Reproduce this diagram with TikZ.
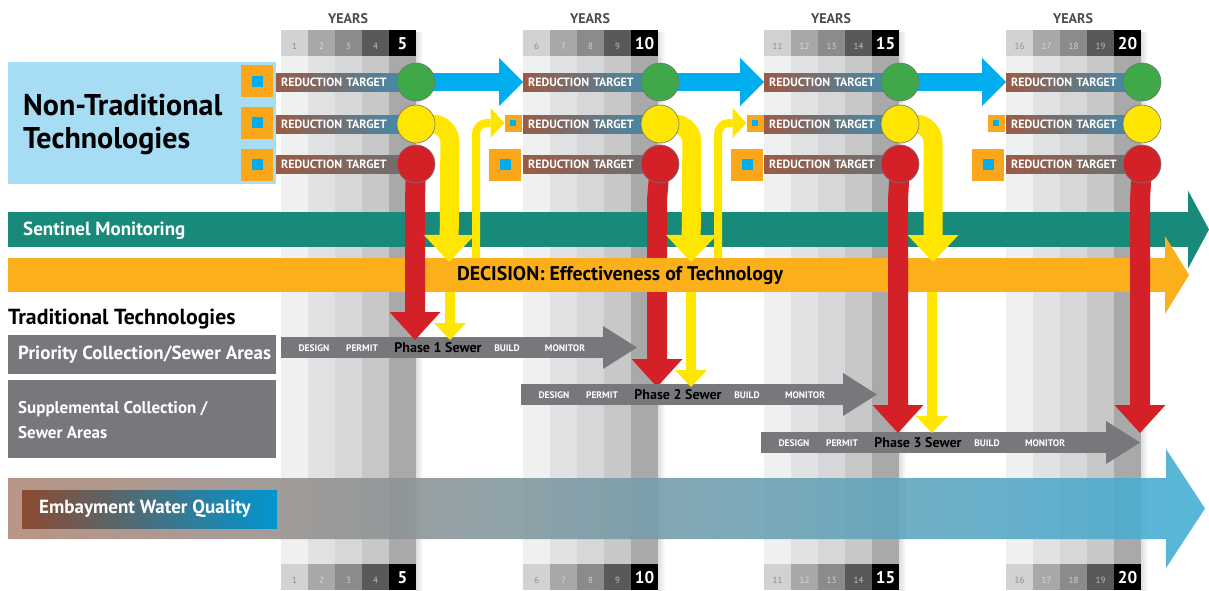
\documentclass[tikz,border=0pt]{standalone}
\usepackage{fontspec}
\setmainfont{PT Sans}
\usetikzlibrary{arrows.meta}
\definecolor{cNbox}{HTML}{A6DDF5}
\definecolor{cSqOr}{HTML}{F9A61A}
\definecolor{cSqBl}{HTML}{00AEEF}
\definecolor{cTeal}{HTML}{178A79}
\definecolor{cDec}{HTML}{FBB01B}
\definecolor{cGray}{HTML}{77787B}
\definecolor{cRed}{HTML}{D42127}
\definecolor{cYel}{HTML}{FFE600}
\definecolor{cGrn}{HTML}{3FA949}
\definecolor{cBlue}{HTML}{00AEEF}
\definecolor{cBrown}{HTML}{9B5B45}
\definecolor{cRtBlue}{HTML}{3B8FB5}
\definecolor{cRtGray}{HTML}{6A7276}
\definecolor{cEmbL}{HTML}{B18979}
\definecolor{cEmbM}{HTML}{9A9D9F}
\definecolor{cEmbR}{HTML}{45AFD5}
\definecolor{cEwL}{HTML}{8C4A30}
\definecolor{cEwM}{HTML}{6B7379}
\definecolor{cEwR}{HTML}{0096D0}
\definecolor{b0}{HTML}{EFF0F0}
\definecolor{b1}{HTML}{E1E2E3}
\definecolor{b2}{HTML}{D6D7D8}
\definecolor{b3}{HTML}{C8C8C9}
\definecolor{b4}{HTML}{A9A9AA}
\definecolor{h0}{HTML}{D1D2D3}
\definecolor{h1}{HTML}{A7A8AA}
\definecolor{h2}{HTML}{8A8B8D}
\definecolor{h3}{HTML}{58595B}
\definecolor{h4}{HTML}{000000}
\definecolor{n0}{HTML}{8C8C8C}
\definecolor{n1}{HTML}{DADADA}
\definecolor{n2}{HTML}{CFCFCF}
\definecolor{n3}{HTML}{BDBDBD}
\begin{document}
\begin{tikzpicture}[x=1pt,y=-1pt,line cap=butt,
  circ/.style={circle,minimum size=38pt,inner sep=0pt,draw=black!55,line width=0.6pt},
  rtbar/.style={anchor=west,minimum height=18pt,inner ysep=0pt,inner xsep=5pt,text=white,
     font=\bfseries\fontsize{12}{13}\selectfont,align=left},
  sqbig/.style={fill=cSqOr,minimum size=32pt,inner sep=0pt},
  sqsmall/.style={fill=cSqOr,minimum size=17pt,inner sep=0pt},
  inbig/.style={fill=cSqBl,minimum size=11pt,inner sep=0pt},
  insmall/.style={fill=cSqBl,minimum size=6pt,inner sep=0pt},
  num/.style={font=\fontsize{9}{10}\selectfont,inner sep=0pt},
  bignum/.style={font=\bfseries\fontsize{17}{18}\selectfont,text=white,inner sep=0pt},
  yrs/.style={font=\bfseries\fontsize{14}{15}\selectfont,text=black!70,inner sep=0pt},
  blk/.style={line width=18pt,cBlue,-{Triangle[length=24pt,width=48pt,line width=0pt]}},
  redar/.style={line width=20pt,cRed,-{Triangle[length=28pt,width=51pt,line width=0pt]}},
  yelthick/.style={line width=19pt,cYel,rounded corners=18pt,-{Triangle[length=27pt,width=51pt,line width=0pt]}},
  yelup/.style={line width=8pt,cYel,rounded corners=11pt,-{Triangle[length=14pt,width=30pt,line width=0pt]}},
  yeldown/.style={line width=10pt,cYel,-{Triangle[length=17pt,width=32pt,line width=0pt]}},
  phase/.style={line width=21pt,cGray,-{Triangle[length=34pt,width=43pt,line width=0pt]}},
  plab/.style={font=\bfseries\fontsize{9.5}{10}\selectfont,text=white,inner sep=0pt},
  pname/.style={font=\bfseries\fontsize{14}{15}\selectfont,text=black,inner sep=0pt},
  graybox/.style={fill=cGray,anchor=north west,inner sep=0pt,minimum width=268pt},
  lefttxt/.style={anchor=west,inner sep=0pt,align=left}]
\useasboundingbox (0,0) rectangle (1209,590);
% ---- year columns
\foreach \b/\bx/\n in {1/281/1,2/523/6,3/764/11,4/1006/16}{
  \shade[left color=black!13,right color=white] (\bx+135,32) rectangle (\bx+142,590);
  \foreach \c in {0,...,4}{
    \fill[b\c] (\bx+\c*27,56) rectangle ++(27,508);
    \fill[h\c] (\bx+\c*27,30) rectangle ++(27,26);
    \fill[h\c] (\bx+\c*27,564) rectangle ++(27,26);
  }
  \node[yrs] (yrs\b) at (\bx+67,19) {YEARS};
  \foreach \c in {0,...,3}{
    \pgfmathtruncatemacro\num{\n+\c}
    \node[num,text=n\c] (nt\b\c) at (\bx+\c*27+13.5,46) {\num};
    \node[num,text=n\c] (nb\b\c) at (\bx+\c*27+13.5,580) {\num};
  }
  \pgfmathtruncatemacro\num{\n+4}
  \node[bignum] (nt\b4) at (\bx+121.5,44) {\num};
  \node[bignum] (nb\b4) at (\bx+121.5,578) {\num};
}
% ---- target coordinates
\foreach \b/\xs/\xc in {1/276/416,2/523/660,3/764/900,4/1006/1142}{
  \coordinate (cg\b) at (\xc,82);
  \coordinate (cy\b) at (\xc,124);
  \coordinate (cr\b) at (\xc,164);
}
% ---- non-traditional box
\node[fill=cNbox,anchor=north west,minimum width=268pt,minimum height=122pt,inner sep=0pt] (nttbox) at (8,62) {};
\node[lefttxt,font=\bfseries\fontsize{30}{33}\selectfont] (ntt) at (23,125) {Non-Traditional\\Technologies};
% ---- sentinel bar
\coordinate (sentS) at (8,229.5); \coordinate (sentE) at (1209,229.5);
\draw[line width=35pt,cTeal,-{Triangle[length=21pt,width=78pt,line width=0pt]}] (sentS) -- (sentE);
\node[lefttxt,text=white,font=\bfseries\fontsize{19}{20}\selectfont] (sent) at (23,231) {Sentinel Monitoring};
% red arrow of block 2 runs beneath the decision bar
\coordinate (rt2) at (657,387);
\draw[redar] (cr2) -- (657,200) -- (rt2);
% ---- decision bar
\coordinate (decS) at (8,275); \coordinate (decE) at (1189,275);
\draw[line width=34pt,cDec,-{Triangle[length=24pt,width=78pt,line width=0pt]}] (decS) -- (decE);
\node[font=\bfseries\fontsize{19.8}{20}\selectfont,inner sep=0pt] (dec) at (620,276) {DECISION: Effectiveness of Technology};
% ---- traditional
\node[lefttxt,font=\bfseries\fontsize{21.8}{22}\selectfont] (trad) at (8,319) {Traditional Technologies};
\node[graybox,minimum height=39pt] (prbox) at (8,335) {};
\node[lefttxt,text=white,font=\bfseries\fontsize{19}{20}\selectfont] (pr) at (18,355) {Priority Collection/Sewer Areas};
\node[graybox,minimum height=78pt] (spbox) at (8,380) {};
\node[lefttxt,text=white,font=\bfseries\fontsize{17}{25}\selectfont] (sp) at (18,420) {Supplemental Collection /\\Sewer Areas};
% ---- embayment
\shade[left color=cEmbL,middle color=cEmbM,right color=cEmbR,opacity=0.9]
  (8,478) -- (1166,478) -- (1166,449) -- (1205,508.5) -- (1166,568) -- (1166,539) -- (8,539) -- cycle;
\node[anchor=north west,minimum width=255pt,minimum height=38pt,inner sep=0pt,
  left color=cEwL,middle color=cEwM,right color=cEwR] (embbox) at (22,490) {};
\node[lefttxt,text=white,font=\bfseries\fontsize{19}{20}\selectfont] (emb) at (39,509) {Embayment Water Quality};
% ---- phase arrows
\coordinate (p1s) at (281,347.5); \coordinate (p1e) at (637,347.5);
\coordinate (p2s) at (521,394.5); \coordinate (p2e) at (877,394.5);
\coordinate (p3s) at (761,442.5); \coordinate (p3e) at (1140,442.5);
\draw[phase] (p1s) -- (p1e);
\draw[phase] (p2s) -- (p2e);
\draw[phase] (p3s) -- (p3e);
\foreach \k/\px/\py in {1/281/348,2/521/395,3/761/443}{
  \node[plab] (des\k) at (\px+33,\py) {DESIGN};
  \node[plab] (per\k) at (\px+81,\py) {PERMIT};
  \node[pname] (ph\k) at (\px+157,\py) {Phase \k\ Sewer};
  \node[plab] (bld\k) at (\px+226,\py) {BUILD};
  \node[plab] (mon\k) at (\px+284,\py) {MONITOR};
}
% ---- reduction target bars
\foreach \b/\xs/\xc in {1/276/416,2/523/660,3/764/900,4/1006/1142}{
  \pgfmathsetmacro\w{\xc-\xs}
  \node[rtbar,minimum width=\w pt,text width=\w pt-10pt,left color=cBrown,middle color=cBrown!60!cRtBlue,right color=cRtBlue] (rta\b) at (\xs,82) {REDUCTION TARGET};
  \node[rtbar,minimum width=\w pt,text width=\w pt-10pt,left color=cBrown,middle color=cBrown!60!cRtBlue,right color=cRtBlue] (rtb\b) at (\xs,124) {REDUCTION TARGET};
  \node[rtbar,minimum width=\w pt,text width=\w pt-10pt,left color=cBrown,middle color=cBrown!65!cRtGray,right color=cRtGray] (rtc\b) at (\xs,164) {REDUCTION TARGET};
}
% ---- blue arrows between green targets
\draw[blk] (cg1) -- (rta2.west);
\draw[blk] (cg2) -- (rta3.west);
\draw[blk] (cg3) -- (rta4.west);
% ---- red arrows
\coordinate (rt1) at (415,340);
\coordinate (rt3) at (898,433); \coordinate (rt4) at (1140,433);
\draw[redar] (cr1) -- (415,200) -- (rt1);
\draw[redar] (cr3) -- (898,200) -- (rt3);
\draw[redar] (cr4) -- (1140,200) -- (rt4);
% ---- yellow arrows
\coordinate (yt1) at (449,262); \coordinate (yt2) at (691,262); \coordinate (yt3) at (933,262);
\draw[yelthick] (cy1) -- (450,124) -- (yt1);
\draw[yelthick] (cy2) -- (692,124) -- (yt2);
\draw[yelthick] (cy3) -- (933,124) -- (yt3);
\coordinate (yd1s) at (450,292); \coordinate (yd1e) at (450,340);
\coordinate (yd2s) at (691,292); \coordinate (yd2e) at (691,387);
\coordinate (yd3s) at (932,292); \coordinate (yd3e) at (932,433);
\draw[yeldown] (yd1s) -- (yd1e);
\draw[yeldown] (yd2s) -- (yd2e);
\draw[yeldown] (yd3s) -- (yd3e);
\coordinate (ss2) at (513,123); \coordinate (ss3) at (755,123); \coordinate (ss4) at (996,123);
\coordinate (yu1s) at (476,258); \coordinate (yu2s) at (718,258);
\draw[yelup] (yu1s) -- (476,123) -- ([xshift=-8.5pt]ss2);
\draw[yelup] (yu2s) -- (718,123) -- ([xshift=-8.5pt]ss3);
% ---- circles
\foreach \b in {1,2,3,4}{
  \node[circ,fill=cGrn] (g\b) at (cg\b) {};
  \node[circ,fill=cYel] (y\b) at (cy\b) {};
  \node[circ,fill=cRed] (r\b) at (cr\b) {};
}
% ---- squares
\foreach \r/\yy in {a/81,b/122.5,c/164.5}{
  \node[sqbig] (sq1\r) at (257,\yy) {};
  \node[inbig] (isq1\r) at (257,\yy) {};
}
\foreach \b in {2,3,4}{
  \node[sqsmall] (sq\b b) at (ss\b) {};
  \node[insmall] (isq\b b) at (ss\b) {};
}
\foreach \b/\xx in {2/505,3/747,4/988}{
  \node[sqbig] (sq\b c) at (\xx,164.5) {};
  \node[inbig] (isq\b c) at (\xx,164.5) {};
}
\end{tikzpicture}
\end{document}
